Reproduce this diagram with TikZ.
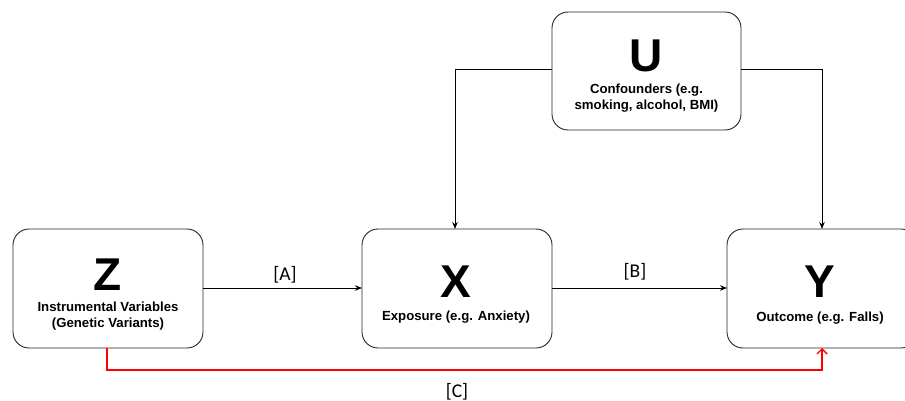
\documentclass[tikz,border=0pt]{standalone}
\usepackage{fontspec}
\setmainfont{Liberation Sans}
\newfontfamily\lblfont{Carlito}
\usetikzlibrary{arrows.meta}
\tikzset{
  box/.style={draw=black!85, line width=0.9pt, rounded corners=16pt, inner sep=0pt},
  big/.style={font=\fontsize{46}{46}\selectfont\bfseries, inner sep=0pt, anchor=base},
  desc/.style={font=\fontsize{13.2}{16}\selectfont\bfseries, inner sep=0pt, anchor=base, align=center},
  lbl/.style={font=\lblfont\fontsize{19.5}{19.5}\selectfont, inner sep=0pt, anchor=base},
  conn/.style={line width=1pt, -{Stealth[length=7pt,width=5.5pt]}},
  redconn/.style={line width=1.4pt, red, -{Straight Barb[length=5pt,width=10pt]}}
}
\begin{document}
\begin{tikzpicture}[x=1pt,y=-1pt]
\useasboundingbox (0,0) rectangle (905,401);
% boxes
\draw[box] (552,12) rectangle (741,130);
\coordinate (Ul) at (552,70);
\coordinate (Ur) at (741,70);
\draw[box] (13,229) rectangle (203,348);
\coordinate (Zr) at (203,288);
\coordinate (Zb) at (107,348);
\draw[box] (362,229) rectangle (552,348);
\coordinate (Xl) at (362,288);
\coordinate (Xr) at (552,288);
\coordinate (Xt) at (455,229);
\draw[box] (727,229) rectangle (917,348);
\coordinate (Yl) at (727,288);
\coordinate (Yt) at (822,229);
\coordinate (Yb) at (822,348);
% texts
\node[big] (Ulet) at (646.5,72) {U};
\node[desc] (Utxt) at (646.5,110) {Confounders (e.g.\\smoking, alcohol, BMI)};
\node[big] (Zlet) at (108,290) {Z};
\node[desc] (Ztxt) at (108,327) {Instrumental Variables\\(Genetic Variants)};
\node[big] (Xlet) at (456,297) {X};
\node[desc] (Xtxt) at (456,320) {Exposure (e.g. Anxiety)};
\node[big] (Ylet) at (820,297) {Y};
\node[desc] (Ytxt) at (820,321) {Outcome (e.g. Falls)};
% connectors
\draw[conn] (Zr) -- (Xl);
\draw[conn] (Xr) -- (Yl);
\draw[conn] (Ul) -| (Xt);
\draw[conn] (Ur) -| (Yt);
\draw[redconn] (Zb) |- (457,370) -| (Yb);
% labels
\node[lbl] (A) at (285,280) {[A]};
\node[lbl] (B) at (635,277) {[B]};
\node[lbl] (C) at (457,397) {[C]};
\end{tikzpicture}
\end{document}
